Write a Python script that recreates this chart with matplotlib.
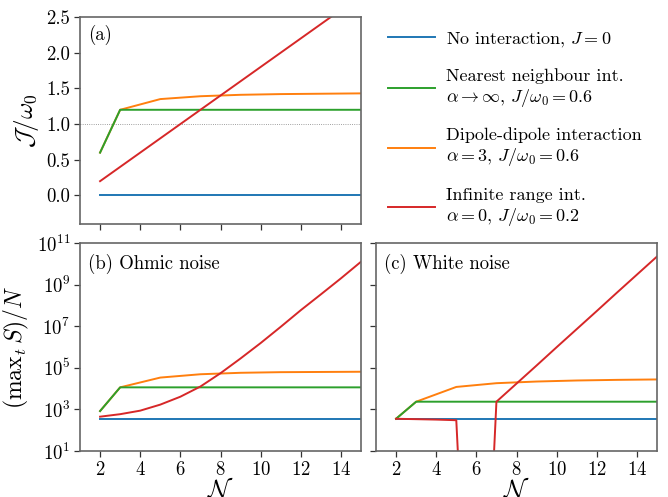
import numpy as np
import matplotlib
matplotlib.use("Agg")
import matplotlib.pyplot as plt

plt.rcParams['mathtext.fontset'] = 'cm'
plt.rcParams['font.family'] = 'serif'
plt.rcParams['font.serif'] = ['cmr10']
plt.rcParams['axes.formatter.use_mathtext'] = True
plt.rcParams['axes.unicode_minus'] = False

# ---------------- data ----------------
N_all = [2, 3, 4, 5, 6, 7, 8, 9, 10, 11, 12, 13, 14, 15]
N_odd = [2, 3, 5, 7, 9, 11, 13, 15]

# panel (a): J / omega_0
a_none = [0.0] * len(N_all)
a_nn = [0.6, 1.2, 1.2, 1.2, 1.2, 1.2, 1.2, 1.2, 1.2, 1.2, 1.2, 1.2, 1.2, 1.2]
a_dip = [0.6, 1.2, 1.35, 1.39, 1.41, 1.42, 1.425, 1.43]
a_inf = [0.2, 0.4, 0.6, 0.8, 1.0, 1.2, 1.4, 1.6, 1.8, 2.0, 2.2, 2.4, 2.6, 2.8]

# panel (b): Ohmic noise, log10 of (max_t S)/N
b_none = [2.55] * len(N_all)
b_nn = [2.92, 4.06, 4.06, 4.06, 4.06, 4.06, 4.06, 4.06, 4.06, 4.06, 4.06, 4.06, 4.06, 4.06]
b_dip = [2.92, 4.06, 4.53, 4.69, 4.76, 4.79, 4.80, 4.81]
b_inf = [2.65, 2.77, 2.94, 3.23, 3.61, 4.10, 4.74, 5.45, 6.19, 6.97, 7.77, 8.53, 9.30, 10.10]

# panel (c): White noise, log10 of (max_t S)/N
c_none = [2.55] * len(N_all)
c_nn = [2.55, 3.37, 3.37, 3.37, 3.37, 3.37, 3.37, 3.37, 3.37, 3.37, 3.37, 3.37, 3.37, 3.37]
c_dip = [2.55, 3.37, 4.08, 4.26, 4.34, 4.39, 4.42, 4.44]
c_inf = [2.55, 2.53, 2.51, 2.48, -17.0, 3.37, 4.24, 5.11, 5.99, 6.86, 7.73, 8.61, 9.48, 10.35]

labels = ["No interaction, $J=0$",
          "Nearest neighbour int.\n$\\alpha\\rightarrow\\infty,\\,J/\\omega_0=0.6$",
          "Dipole-dipole interaction\n$\\alpha=3,\\,J/\\omega_0=0.6$",
          "Infinite range int.\n$\\alpha=0,\\,J/\\omega_0=0.2$"]
colors = ["#1f77b4", "#2ca02c", "#ff7f0e", "#d62728"]

W, H = 668, 497
fig = plt.figure(figsize=(W / 100, H / 100), dpi=100)

def ax_at(l, t, r, b):
    return fig.add_axes([l / W, 1 - b / H, (r - l) / W, (b - t) / H])

axa = ax_at(80, 17, 361, 224)
axb = ax_at(80, 243, 361, 451)
axc = ax_at(376, 243, 657, 451)

spine_col = "#666666"
TICK_FS = 13.5
for ax in (axa, axb, axc):
    for s in ax.spines.values():
        s.set_color(spine_col)
        s.set_linewidth(1.2)
    ax.tick_params(colors="#333333", labelcolor="black", labelsize=TICK_FS,
                   width=0.9, length=4, pad=3)
    ax.set_xlim(1, 15)
    ax.set_xticks([2, 4, 6, 8, 10, 12, 14])

lw = 1.4
# panel (a)
axa.axhline(1.0, color="grey", lw=0.6, ls=":")
h_none = axa.plot(N_all, a_none, color=colors[0], lw=lw, label=labels[0])
h_dip = axa.plot(N_odd, a_dip, color=colors[2], lw=lw, label=labels[2])
h_nn = axa.plot(N_all, a_nn, color=colors[1], lw=lw, label=labels[1])
h_inf = axa.plot(N_all, a_inf, color=colors[3], lw=lw, label=labels[3])
handles = [h_none[0], h_nn[0], h_dip[0], h_inf[0]]
axa.set_ylim(-0.4, 2.5)
axa.set_yticks([0.0, 0.5, 1.0, 1.5, 2.0, 2.5])
axa.set_yticklabels(["0.0", "0.5", "1.0", "1.5", "2.0", "2.5"])
axa.tick_params(axis="x", labelbottom=False)
axa.set_ylabel(r"$\mathcal{J}/\omega_0$", fontsize=18, labelpad=4)
axa.text(0.03, 0.96, "(a)", transform=axa.transAxes, fontsize=13.5,
         va="top", ha="left")

def draw_log(ax, none, nn, dip, inf):
    ax.plot(N_all, [10 ** v for v in none], color=colors[0], lw=lw)
    ax.plot(N_odd, [10 ** v for v in dip], color=colors[2], lw=lw)
    ax.plot(N_all, [10 ** v for v in nn], color=colors[1], lw=lw)
    ax.plot(N_all, [10 ** v for v in inf], color=colors[3], lw=lw)
    ax.set_yscale("log")
    ax.set_ylim(1e1, 1e11)
    ax.set_yticks([1e1, 1e3, 1e5, 1e7, 1e9, 1e11])
    ax.minorticks_off()
    ax.set_xlim(1, 15)
    ax.set_xticks([2, 4, 6, 8, 10, 12, 14])
    ax.set_xlabel(r"$\mathcal{N}$", fontsize=18, labelpad=-1)

draw_log(axb, b_none, b_nn, b_dip, b_inf)
draw_log(axc, c_none, c_nn, c_dip, c_inf)
axc.tick_params(axis="y", labelleft=False)
axb.set_ylabel(r"$(\mathrm{max}_t\, S)/N$", fontsize=17, labelpad=4)
axb.text(0.03, 0.95, "(b) Ohmic noise", transform=axb.transAxes,
         fontsize=13.5, va="top", ha="left")
axc.text(0.03, 0.95, "(c) White noise", transform=axc.transAxes,
         fontsize=13.5, va="top", ha="left")

fig.legend(handles, labels, loc="upper left",
           bbox_to_anchor=(388 / W, 1 - 30 / H), frameon=False,
           fontsize=13, handlelength=2.6, handletextpad=0.6,
           labelspacing=1.05, borderpad=0, borderaxespad=0)

fig.savefig("out.png", dpi=100)
